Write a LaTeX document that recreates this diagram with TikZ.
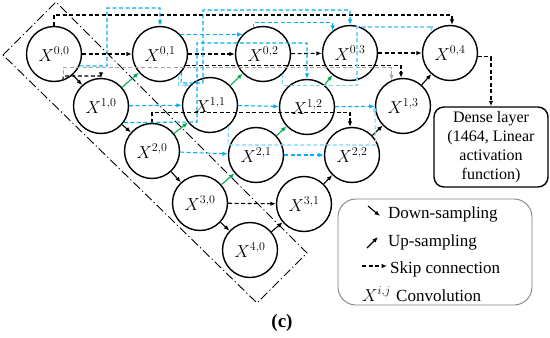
\documentclass[tikz,border=0pt]{standalone}
\usepackage{fontspec}
\setmainfont{Liberation Serif}
\usetikzlibrary{arrows.meta,positioning}
\definecolor{skipCyan}{RGB}{0,176,240}
\definecolor{skipLight}{RGB}{125,212,250}
\definecolor{skipGray}{RGB}{165,165,165}
\definecolor{upGreen}{RGB}{0,176,80}
\colorlet{legendEdge}{black!50}

\begin{document}
\begin{tikzpicture}[
    x=1pt,y=-1pt,
    conv/.style={circle,draw,line width=1.4pt,minimum size=55pt,inner sep=0pt,font=\fontsize{17}{20}\selectfont},
    densebox/.style={draw,line width=1.4pt,rounded corners=10pt,minimum width=114pt,minimum height=80pt,align=center,inner sep=2pt,font=\fontsize{16}{19}\selectfont},
    legbox/.style={draw=legendEdge,line width=0.9pt,rounded corners=18pt,minimum width=194pt,minimum height=106pt},
    legtext/.style={anchor=base west,inner sep=0pt,font=\fontsize{17}{20}\selectfont},
    encoder/.style={line width=0.9pt,dash pattern=on 9pt off 3pt on 1.2pt off 3pt},
    dnarr/.style={-{Latex[length=5.5pt,width=4.5pt]},line width=1.1pt,black},
    uparr/.style={dnarr,upGreen},
    skipbk/.style={-{Latex[length=5.5pt,width=4.5pt]},line width=1.1pt,dash pattern=on 4pt off 2.5pt,black},
    skipcy/.style={skipbk,skipCyan},
    skiplc/.style={skipbk,skipLight},
    skipgr/.style={skipbk,skipGray}
  ]
  \useasboundingbox (0,0) rectangle (550,338);

  % encoder column
  \draw[encoder] (3,55) -- (56,2) -- (307,253) -- (257,303) -- cycle;

  % convolution units
  \node[conv] (X00) at (54,54) {$X^{0,0}$};
  \node[conv] (X01) at (160,54) {$X^{0,1}$};
  \node[conv] (X02) at (263,54) {$X^{0,2}$};
  \node[conv] (X03) at (350,53) {$X^{0,3}$};
  \node[conv] (X04) at (450,53) {$X^{0,4}$};
  \node[conv] (X10) at (101,106) {$X^{1,0}$};
  \node[conv] (X11) at (210,105) {$X^{1,1}$};
  \node[conv] (X12) at (307,107) {$X^{1,2}$};
  \node[conv] (X13) at (403,106) {$X^{1,3}$};
  \node[conv] (X20) at (152,151) {$X^{2,0}$};
  \node[conv] (X21) at (256,155) {$X^{2,1}$};
  \node[conv] (X22) at (352,155) {$X^{2,2}$};
  \node[conv] (X30) at (200,203) {$X^{3,0}$};
  \node[conv] (X31) at (304,204) {$X^{3,1}$};
  \node[conv] (X40) at (250,250) {$X^{4,0}$};

  \node[densebox] (dense) at (491,147) {Dense layer\\(1464, Linear\\activation\\function)};

  % down- and up-sampling
  \draw[dnarr] (X00) -- (X10);
  \draw[dnarr] (X10) -- (X20);
  \draw[dnarr] (X20) -- (X30);
  \draw[dnarr] (X30) -- (X40);
  \draw[dnarr] (X40) -- (X31);
  \draw[dnarr] (X31) -- (X22);
  \draw[dnarr] (X22) -- (X13);
  \draw[dnarr] (X13) -- (X04);
  \draw[uparr] (X10) -- (X01);
  \draw[uparr] (X20) -- (X11);
  \draw[uparr] (X30) -- (X21);
  \draw[uparr] (X11) -- (X02);
  \draw[uparr] (X21) -- (X12);
  \draw[uparr] (X12) -- (X03);

  % skip connections
  \draw[skipgr] (X00.-71) -- ++(0,-13) -| (X13.114);
  \draw[skipbk] (X00) -- (X01);
  \draw[skipbk] (X01) -- (X02);
  \draw[skipbk] (X02) -- (X03);
  \draw[skipbk] (X03) -- (X04);
  \draw[skipbk] (X30) -- (X31);
  \draw[skipbk] (X00.north) -- (54,15) -| (X04.86);
  \draw[skipbk] (X00.-71) -- (63,76) -| (X10.north);
  \draw[skipbk] (X01.-24) -| (X13.94);
  \draw[skipbk] (X20.north) -- ++(0,-10.5) -| (X22.94);
  \draw[skipbk] (X04.-8) -| (dense.north);
  \draw[skipcy] (X10) -- (X11);
  \draw[skipcy] (X11) -- (X12);
  \draw[skipcy] (X12) -- (X13);
  \draw[skipcy] (X20) -- (X21);
  \draw[skipcy] (X21) -- (X22);
  \draw[skipcy] (X01.44) -- (X02.136);
  \draw[skipcy] (X00.-25) -- (107,66) -- (107,8) -| (X01.north);
  \draw[skipcy] (X01.-40) -- (181,83) -- (203,83) -- (203,10) -| (X03.north);
  \draw[skipcy] (X02.110) -- ++(0,-5) -| (X03.128);
  \draw[skipcy] (X10.-36) -- (197,122) -- (197,43) -| (X12.north);
  \draw[skiplc] (X01.-50) |- (X11.135);
  \draw[skiplc] (X02.-45) -- ++(0,12) -| (357,27) -| (X04.131);
  \draw[skiplc] (X11.-49) -- (228,145) -- (375.5,145) -- (X13.west);

  % legend
  \node[legbox] (legend) at (435,252) {};
  \coordinate (dnA) at (368,206);
  \coordinate (dnB) at (380,216);
  \coordinate (upA) at (367,248);
  \coordinate (upB) at (378,237);
  \coordinate (skA) at (362,266);
  \coordinate (skB) at (387,266);
  \draw[dnarr] (dnA) -- (dnB);
  \draw[dnarr] (upA) -- (upB);
  \draw[skipbk] (skA) -- (skB);
  \node[legtext] (dnlbl) at (388,218) {Down-sampling};
  \node[legtext] (uplbl) at (388,246) {Up-sampling};
  \node[legtext] (sklbl) at (390,273) {Skip connection};
  \node[legtext] (cvsym) at (362,301) {$X^{i,j}$};
  \node[legtext] (cvlbl) at (396,301) {Convolution};

  \node[font=\fontsize{19}{22}\selectfont\bfseries] (panel) at (282,323) {(c)};
\end{tikzpicture}
\end{document}
